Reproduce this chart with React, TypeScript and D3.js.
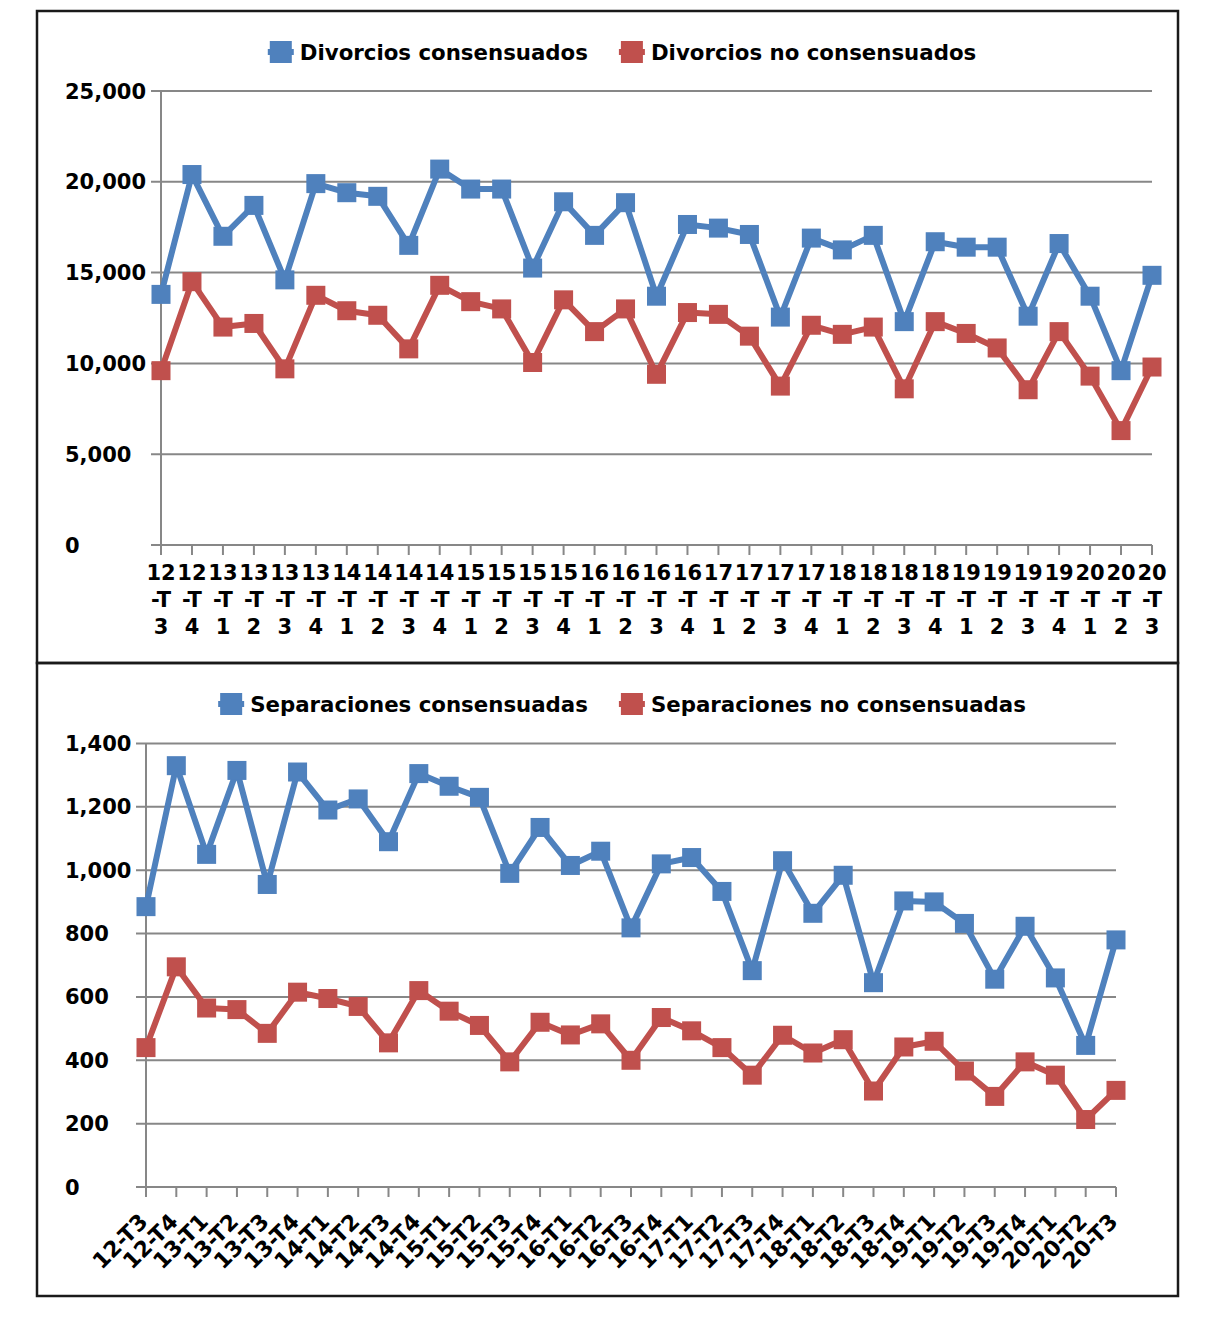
import React, { useEffect, useRef } from 'react';
import * as d3 from 'd3';

const quarters = [
  '12-T3', '12-T4', '13-T1', '13-T2', '13-T3', '13-T4', '14-T1', '14-T2', '14-T3', '14-T4',
  '15-T1', '15-T2', '15-T3', '15-T4', '16-T1', '16-T2', '16-T3', '16-T4', '17-T1', '17-T2',
  '17-T3', '17-T4', '18-T1', '18-T2', '18-T3', '18-T4', '19-T1', '19-T2', '19-T3', '19-T4',
  '20-T1', '20-T2', '20-T3',
];

const divConsensuados = [
  13800, 20400, 17000, 18700, 14600, 19900, 19400, 19200, 16500, 20700,
  19600, 19600, 15250, 18900, 17050, 18850, 13700, 17650, 17450, 17100,
  12550, 16900, 16250, 17050, 12300, 16700, 16400, 16400, 12600, 16600,
  13700, 9600, 14850,
];

const divNoConsensuados = [
  9600, 14500, 12000, 12200, 9700, 13750, 12900, 12650, 10800, 14300,
  13400, 13000, 10050, 13500, 11750, 13000, 9400, 12800, 12700, 11500,
  8750, 12100, 11600, 12000, 8600, 12300, 11650, 10850, 8550, 11750,
  9300, 6300, 9800,
];

const sepConsensuadas = [
  885, 1330, 1050, 1315, 955, 1310, 1190, 1225, 1090, 1305,
  1265, 1230, 990, 1135, 1015, 1060, 818, 1020, 1040, 933,
  683, 1030, 864, 984, 645, 903, 900, 832, 656, 823,
  660, 447, 780,
];

const sepNoConsensuadas = [
  440, 695, 565, 560, 485, 615, 595, 570, 455, 620,
  555, 510, 395, 520, 480, 515, 400, 535, 493, 440,
  353, 479, 423, 465, 303, 442, 460, 366, 286, 395,
  353, 213, 305,
];

const divTicks = [0, 5000, 10000, 15000, 20000, 25000];
const sepTicks = [0, 200, 400, 600, 800, 1000, 1200, 1400];

const BLUE = '#4f81bd';
const RED = '#c0504d';
const GRID = '#878787';
const FONT = '"DejaVu Sans", Verdana, sans-serif';

interface Series {
  name: string;
  color: string;
  values: number[];
}

interface PanelOpts {
  left: number;
  right: number;
  top: number;
  bottom: number;
  ticks: number[];
  series: Series[];
  legendY: number;
  rotatedLabels: boolean;
}

function drawPanel(svg: d3.Selection<SVGSVGElement, unknown, null, undefined>, o: PanelOpts) {
  const g = svg.append('g');
  const x = d3.scalePoint<string>().domain(quarters).range([o.left, o.right]);
  const y = d3.scaleLinear().domain([0, d3.max(o.ticks) as number]).range([o.bottom, o.top]);
  const fmt = d3.format(',');

  // gridlines + y ticks
  g.selectAll('.grid')
    .data(o.ticks)
    .enter().append('line')
    .attr('x1', o.left - 10)
    .attr('x2', o.right)
    .attr('y1', d => y(d))
    .attr('y2', d => y(d))
    .attr('stroke', GRID)
    .attr('stroke-width', 2);

  g.append('line')
    .attr('x1', o.left).attr('x2', o.left)
    .attr('y1', o.top).attr('y2', o.bottom)
    .attr('stroke', GRID).attr('stroke-width', 2);

  g.selectAll('.xtick')
    .data(quarters)
    .enter().append('line')
    .attr('x1', d => x(d) as number)
    .attr('x2', d => x(d) as number)
    .attr('y1', o.bottom)
    .attr('y2', o.bottom + 10)
    .attr('stroke', GRID).attr('stroke-width', 2);

  // y labels, left aligned
  g.selectAll('.ylab')
    .data(o.ticks)
    .enter().append('text')
    .attr('x', 65)
    .attr('y', d => y(d))
    .attr('dy', '0.36em')
    .attr('font-family', FONT)
    .attr('font-weight', 'bold')
    .attr('font-size', 21)
    .attr('fill', '#000')
    .text(d => fmt(d));

  // x labels
  if (o.rotatedLabels) {
    g.selectAll('.xlab')
      .data(quarters)
      .enter().append('text')
      .attr('transform', d => `translate(${(x(d) as number) + 3},${o.bottom + 36}) rotate(-45)`)
      .attr('text-anchor', 'end')
      .attr('font-family', FONT)
      .attr('font-weight', 'bold')
      .attr('font-size', 22)
      .attr('fill', '#000')
      .text(d => d);
  } else {
    const parts = (d: string) => [d.slice(0, 2), '-T', d.slice(4)];
    quarters.forEach(q => {
      const t = g.append('text')
        .attr('text-anchor', 'middle')
        .attr('font-family', FONT)
        .attr('font-weight', 'bold')
        .attr('font-size', 21)
        .attr('fill', '#000');
      parts(q).forEach((p, i) => {
        t.append('tspan')
          .attr('x', x(q) as number)
          .attr('y', o.bottom + 35 + i * 27)
          .text(p);
      });
    });
  }

  // series
  const line = d3.line<number>()
    .x((_, i) => x(quarters[i]) as number)
    .y(d => y(d));
  const ms = 19;
  o.series.forEach(s => {
    g.append('path')
      .attr('d', line(s.values))
      .attr('fill', 'none')
      .attr('stroke', s.color)
      .attr('stroke-width', 6)
      .attr('stroke-linejoin', 'round');
    g.selectAll(null)
      .data(s.values)
      .enter().append('rect')
      .attr('x', (_, i) => (x(quarters[i]) as number) - ms / 2)
      .attr('y', d => y(d) - ms / 2)
      .attr('width', ms)
      .attr('height', ms)
      .attr('fill', s.color);
  });

  // legend, centred
  const lg = g.append('g');
  const entries = o.series.map(s => {
    const e = lg.append('g');
    e.append('line')
      .attr('x1', 0).attr('x2', 26)
      .attr('y1', 0).attr('y2', 0)
      .attr('stroke', s.color).attr('stroke-width', 6);
    e.append('rect')
      .attr('x', 2).attr('y', -11)
      .attr('width', 22).attr('height', 22)
      .attr('fill', s.color);
    const t = e.append('text')
      .attr('x', 32)
      .attr('dy', '0.36em')
      .attr('font-family', FONT)
      .attr('font-weight', 'bold')
      .attr('font-size', 21.3)
      .attr('fill', '#000')
      .text(s.name);
    const w = 32 + (t.node() as SVGTextElement).getComputedTextLength();
    return { e, w };
  });
  const gap = 31;
  const total = d3.sum(entries, d => d.w) + gap * (entries.length - 1);
  let cx = 622 - total / 2;
  entries.forEach(({ e, w }) => {
    e.attr('transform', `translate(${cx},${o.legendY})`);
    cx += w + gap;
  });
}

const App: React.FC = () => {
  const ref = useRef<SVGSVGElement>(null);

  useEffect(() => {
    if (!ref.current) return;
    const svg = d3.select(ref.current);
    svg.selectAll('*').remove();

    svg.append('rect')
      .attr('width', 1208).attr('height', 1323)
      .attr('fill', '#fff');

    // panel frames
    svg.append('rect')
      .attr('x', 37).attr('y', 11)
      .attr('width', 1141).attr('height', 652)
      .attr('fill', 'none').attr('stroke', '#1a1a1a').attr('stroke-width', 2.5);
    svg.append('rect')
      .attr('x', 37).attr('y', 663)
      .attr('width', 1141).attr('height', 633)
      .attr('fill', 'none').attr('stroke', '#1a1a1a').attr('stroke-width', 2.5);

    drawPanel(svg, {
      left: 161, right: 1152, top: 91, bottom: 545,
      ticks: divTicks,
      series: [
        { name: 'Divorcios consensuados', color: BLUE, values: divConsensuados },
        { name: 'Divorcios no consensuados', color: RED, values: divNoConsensuados },
      ],
      legendY: 52,
      rotatedLabels: false,
    });

    drawPanel(svg, {
      left: 146, right: 1116, top: 743.5, bottom: 1187,
      ticks: sepTicks,
      series: [
        { name: 'Separaciones consensuadas', color: BLUE, values: sepConsensuadas },
        { name: 'Separaciones no consensuadas', color: RED, values: sepNoConsensuadas },
      ],
      legendY: 704,
      rotatedLabels: true,
    });
  }, []);

  return (
    <svg
      ref={ref}
      width={1208}
      height={1323}
      style={{ position: 'absolute', left: 0, top: 0, display: 'block' }}
    />
  );
};

export default App;
